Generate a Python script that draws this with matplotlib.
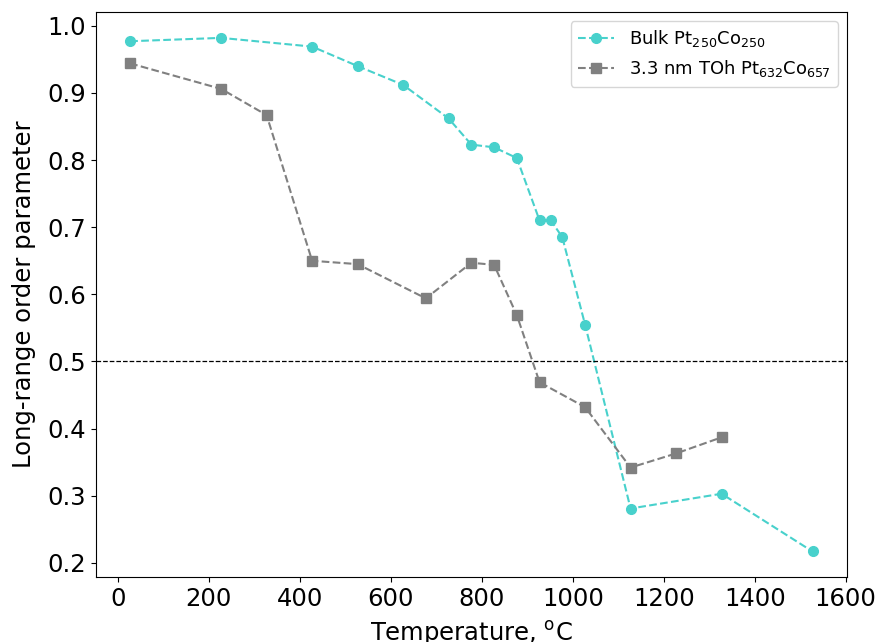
import matplotlib
matplotlib.use('Agg')
import matplotlib.pyplot as plt

# Bulk Pt250Co250
bulk_T   = [27, 227, 427, 527, 627, 727, 777, 827, 877, 927, 952, 977, 1027, 1127, 1327, 1527]
bulk_lro = [0.977, 0.982, 0.969, 0.940, 0.912, 0.862, 0.823, 0.819, 0.803,
            0.710, 0.710, 0.685, 0.555, 0.281, 0.303, 0.217]

# 3.3 nm TOh Pt632Co657
nano_T   = [27, 227, 327, 427, 527, 677, 777, 827, 877, 927, 1027, 1127, 1227, 1327]
nano_lro = [0.944, 0.906, 0.867, 0.650, 0.645, 0.594, 0.647, 0.644, 0.569,
            0.469, 0.432, 0.342, 0.363, 0.387]

fig, ax = plt.subplots(figsize=(8.81, 6.42), dpi=100)
fig.subplots_adjust(left=0.109, right=0.961, top=0.981, bottom=0.101)

ax.plot(bulk_T, bulk_lro, ls='--', marker='o', color='mediumturquoise',
        lw=1.5, ms=7, label='Bulk Pt$_{250}$Co$_{250}$')
ax.plot(nano_T, nano_lro, ls='--', marker='s', color='gray',
        lw=1.5, ms=7, label='3.3 nm TOh Pt$_{632}$Co$_{657}$')
ax.axhline(0.5, color='black', ls='--', lw=0.9)

ax.set_xticks([0, 200, 400, 600, 800, 1000, 1200, 1400, 1600])
ax.tick_params(labelsize=17.5)
ax.set_xlabel('Temperature, $^{\\mathrm{o}}$C', fontsize=17.5, labelpad=6)
ax.set_ylabel('Long-range order parameter', fontsize=17.5, labelpad=8)
ax.legend(fontsize=13, loc='upper right')

fig.savefig('out.png', dpi=100)
